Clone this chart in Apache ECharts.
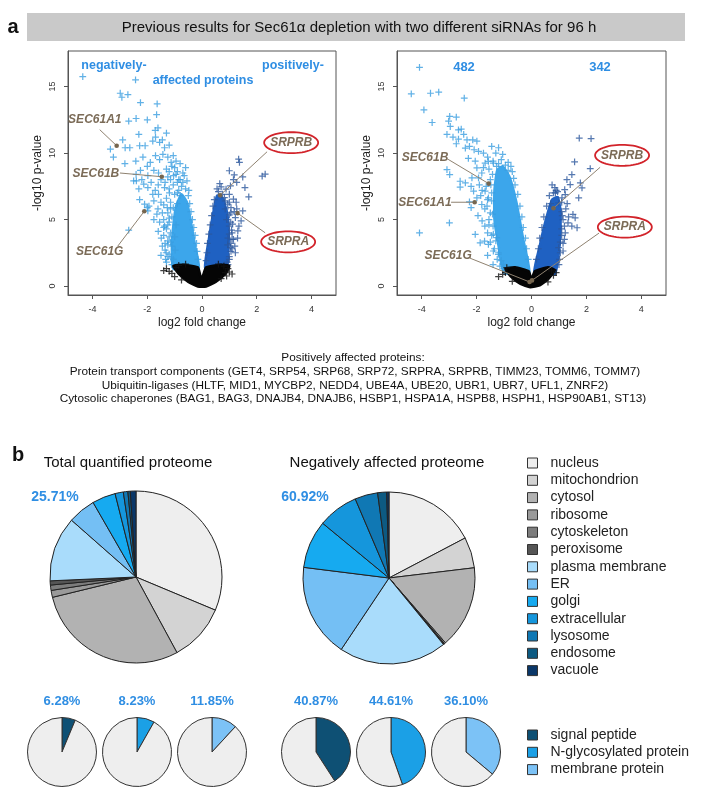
<!DOCTYPE html>
<html><head><meta charset="utf-8">
<script src="https://cdn.jsdelivr.net/npm/echarts@6/dist/echarts.min.js"></script>
<style>html,body{margin:0;padding:0;background:#fff}#c{width:706px;height:801px}</style>
</head><body><div id="c"></div>
<script>
// ================= DATA =================
const titleText = 'Previous results for Sec61\u03b1 depletion with two different siRNAs for 96 h';
const xTicks = [-4, -2, 0, 2, 4];
const yTicks = [0, 5, 10, 15];
const counts2 = [482, 342];

// Volcano 1 (left) – scattered points
const v1Neg = [[-4.36,15.75],[-2.43,15.5],[-2.99,14.5],[-2.71,14.4],[-2.93,14.2],[-2.25,13.8],[-1.64,13.7],[-1.66,12.9],
[-2.68,12.4],[-2.41,12.6],[-2.0,12.5],[-1.61,11.9],[-1.71,11.7],[-3.35,10.3],[-3.24,9.7],[-2.81,10.4],
[-2.64,10.4],[-2.31,11.4],[-2.28,10.55],[-2.9,11.0],[-2.08,10.55],[-1.8,10.9],[-1.7,11.2],[-1.55,10.8],
[-1.37,10.4],[-1.43,9.9],[-1.25,9.7],[-1.13,9.3],[-1.0,8.9],[-2.42,9.4],[-2.16,9.7],[-1.89,9.3],
[-2.41,8.4],[-2.25,8.7],[-1.98,8.3],[-1.76,8.7],[-1.59,8.5],[-1.25,8.2],[-1.04,8.3],[-2.31,7.3],
[-2.13,7.66],[-1.98,7.4],[-1.86,7.8],[-1.71,7.2],[-1.59,6.9],[-1.37,7.4],[-1.19,7.0],[-2.28,6.5],
[-2.1,6.15],[-1.94,6.0],[-1.76,6.4],[-1.61,5.8],[-1.98,5.65],[-1.45,5.5],[-1.27,5.9],[-1.76,5.0],
[-1.37,4.5],[-2.68,4.2],[-1.33,2.0],[-1.31,2.5],[-1.25,3.1],[-1.49,3.6],[-1.13,2.1],
[-1.3,8.8],[-1.2,8.6],[-1.1,9.0],[-0.95,8.4],[-1.15,8.0],[-1.35,7.8],[-1.05,7.6],[-0.9,7.8],[-1.2,7.3],
[-0.85,7.2],[-1.0,6.9],[-1.3,6.6],[-1.15,6.3],[-0.9,6.2],[-1.4,6.1],[-1.05,5.9],[-1.25,5.5],[-1.1,5.2],
[-1.4,5.0],[-1.2,4.8],[-1.3,4.3],[-1.15,4.0],[-1.4,3.8],[-1.25,3.4],[-1.1,3.0],[-1.35,2.7],[-1.2,2.4],
[-1.05,2.0],[-1.3,1.8],[-0.95,4.6],[-1.0,3.7],[-0.98,2.7],[-0.85,8.0],[-0.75,7.5],[-0.8,6.8],
[-1.2,10.6],[-1.05,9.8],[-0.95,9.4],[-1.3,11.5],[-1.45,11.0],[-0.9,8.6],[-0.8,8.0],
[-1.55,9.5],[-1.6,7.6],[-1.5,6.3],[-1.55,4.8],[-1.6,4.1],[-1.45,3.0],[-1.5,2.3],[-1.65,5.4],[-1.5,8.0],
[-1.8,6.9],[-2.0,9.0],[-1.7,9.8],[-2.5,7.9],[-2.2,8.0],[-2.82,9.2],[-2.4,7.9],[-2.0,5.9],
[-0.6,7.3],[-0.5,6.8],[-0.45,6.2],[-0.4,5.6],[-0.35,5.0],[-0.3,4.4],[-0.25,3.8],[-0.2,3.2],[-0.18,2.6],
[-0.15,2.0],[-0.7,7.8],[-0.65,8.3],[-0.9,7.0],[-1.15,5.8],[-1.2,5.1],[-1.25,4.6],[-1.2,3.7],[-1.15,3.3],
[-1.25,2.2],[-1.1,1.6],[-0.6,8.9],[-0.8,9.2],[-0.7,8.5],[-0.55,7.9],[-0.48,7.2],[-1.4,4.4],[-1.35,3.2]];
const v1Pos = [[1.34,9.55],[1.37,9.3],[1.0,8.67],[1.18,8.36],[1.49,8.2],[1.15,8.0],[2.2,8.26],[2.31,8.41],
[0.7,7.46],[0.88,7.28],[1.04,7.53],[1.27,7.8],[1.57,7.4],[1.71,6.7],[0.82,6.65],[1.0,6.9],[1.15,6.53],
[1.25,6.3],[0.94,6.15],[1.06,5.9],[0.85,5.8],[1.18,5.6],[1.27,5.8],[1.0,5.35],[1.49,5.65],[1.43,4.9],
[1.22,5.15],[1.12,4.65],[1.31,4.15],[1.0,3.9],[1.15,3.5],[0.94,3.1],[1.22,2.5],[1.06,2.6],
[0.9,5.0],[1.0,4.5],[0.95,3.6],[1.05,3.2],[1.1,4.0],[0.85,6.4],[0.75,6.9],[0.6,7.1],[1.1,2.8],
[1.0,2.2],[0.92,1.8],[1.2,3.0],[1.3,3.6],[1.35,4.5],
[0.55,7.3],[0.45,6.5],[0.4,6.0],[0.35,5.3],[0.3,4.6],[0.25,3.9],[0.2,3.2],[0.18,2.5],[0.15,1.9],
[1.0,6.3],[1.05,5.5],[1.05,4.8],[1.08,4.2],[1.1,3.5],[1.05,2.9],[1.0,2.0],[0.95,1.6],[0.65,7.7]];
const v1Black = [[-1.3,1.3],[-1.1,0.95],[-1.2,1.1],[0.85,1.0],[1.0,1.05],[0.95,1.3],[-0.95,1.4],[1.1,0.9],
[-0.85,1.55],[0.8,1.5],[-1.4,1.15],[-1.0,0.7],[-0.75,0.45],[0.7,0.55],[0.9,0.75],[-0.6,1.65],[0.6,1.65]];
// dense clouds (outline of the saturated regions)
const v1NegCore = [[-0.12,1.3],[-0.25,3.0],[-0.42,5.0],[-0.55,6.3],[-0.75,6.9],[-0.95,6.0],[-1.05,4.5],[-1.1,3.0],[-1.05,1.3]];
const v1PosCore = [[0.12,1.3],[0.25,3.5],[0.42,5.6],[0.55,6.8],[0.75,6.6],[0.92,5.5],[0.98,3.8],[0.95,2.2],[0.9,1.3]];
const v1BlackCore = [[-1.05,1.5],[-0.85,0.9],[-0.5,0.3],[-0.15,-0.05],[0.15,-0.05],[0.5,0.3],[0.85,0.9],[1.0,1.5],[0.7,1.6],[0.15,1.4],[0.02,0.7],[-0.05,0.7],[-0.15,1.4],[-0.7,1.6]];
const v1HitNames = ['SEC61A1','SEC61B','SEC61G','SRPRB','SRPRA'];
const v1Hits = [[-3.12,10.55],[-1.47,8.22],[-2.11,5.62],[0.66,6.82],[1.3,5.48]];

// Volcano 2 (right)
const v2Neg = [[-4.08,16.45],[-4.38,14.45],[-3.68,14.5],[-3.38,14.58],[-2.45,14.13],[-3.92,13.25],[-3.62,12.3],
[-2.98,12.76],[-2.74,12.7],[-3.02,12.4],[-2.96,12.0],[-2.66,11.75],[-2.56,11.8],[-3.08,11.4],[-2.86,11.2],
[-2.66,11.05],[-2.47,11.4],[-2.74,10.7],[-2.35,11.0],[-2.14,11.0],[-1.99,10.9],[-2.26,10.5],[-2.41,10.38],
[-2.09,10.25],[-1.93,10.13],[-1.75,10.0],[-3.08,8.75],[-2.98,8.38],[-2.6,7.88],[-2.41,7.75],[-2.6,7.43],
[-2.17,8.13],[-1.99,8.88],[-1.69,9.25],[-1.57,9.38],[-1.39,9.25],[-1.27,9.0],[-1.81,8.5],[-1.93,8.13],
[-2.11,7.13],[-2.26,6.33],[-1.99,6.63],[-1.81,6.13],[-1.69,7.13],[-1.57,6.63],[-2.99,4.75],[-4.08,4.0],
[-2.05,3.88],[-1.87,3.25],[-1.71,3.38],[-1.57,3.13],[-1.39,3.9],[-1.27,3.63],[-1.39,2.63],[-1.21,2.38],[-1.03,1.63],
[-1.5,8.0],[-1.45,7.0],[-1.6,6.5],[-1.5,5.5],[-1.55,4.6],[-1.45,3.8],[-1.35,2.8],[-1.25,2.0],[-1.15,1.5],
[-1.65,7.5],[-1.7,5.8],[-1.4,9.4],[-1.1,9.5],[-0.95,9.1],[-0.85,8.7],[-1.3,10.0],[-1.6,9.7],[-1.75,8.9],
[-1.8,7.2],[-1.85,6.8],[-1.7,4.5],[-1.6,4.0],[-1.5,3.3],[-1.6,2.3],[-1.4,1.6],
[-2.3,9.6],[-2.05,9.4],[-1.9,7.6],[-2.2,7.5],[-1.95,5.3],[-1.8,4.9],[-2.2,5.9],[-1.45,10.5],[-1.2,10.4],[-1.05,9.9],
[-0.85,9.3],[-0.7,8.6],[-0.6,7.6],[-0.5,6.9],[-0.42,6.0],[-0.35,5.2],[-0.3,4.4],[-0.22,3.6],[-0.18,2.8],
[-0.12,2.0],[-1.2,9.2],[-1.42,8.4],[-1.48,7.6],[-1.45,6.4],[-1.42,5.4],[-1.4,4.5],[-1.3,3.4],[-1.2,2.5],
[-1.1,1.9],[-1.0,1.3],[-0.75,9.0],[-0.65,8.1],[-1.55,8.8],[-1.62,6.0],[-1.55,5.0]];
const v2Pos = [[1.74,11.13],[2.17,11.08],[1.57,9.33],[2.14,8.83],[1.29,8.0],[1.47,8.38],[1.41,7.63],[1.78,7.75],
[1.84,7.38],[1.21,7.25],[0.87,7.0],[1.11,6.63],[1.23,6.88],[0.99,6.25],[1.72,6.63],[1.59,5.13],[1.51,5.38],
[1.33,4.75],[1.47,4.5],[1.66,4.38],[1.23,4.0],[1.15,2.63],[0.99,2.88],
[1.1,5.6],[1.15,5.0],[1.2,4.5],[1.1,3.8],[1.15,3.2],[1.05,2.5],[0.95,7.1],[0.85,7.4],[1.0,1.6],[1.25,5.8],
[1.3,6.2],[1.35,5.2],[1.2,3.5],
[0.65,6.8],[0.55,6.0],[0.45,5.2],[0.38,4.4],[0.3,3.6],[0.25,2.8],[0.18,2.0],[1.1,6.3],[1.12,5.3],
[1.1,4.3],[1.05,3.3],[1.02,2.0],[0.9,7.2],[0.8,7.0],[0.75,7.6],[0.7,6.2]];
const v2Black = [[-1.05,0.88],[-0.9,1.38],[0.73,1.13],[-1.2,0.7],[0.9,1.0],[-0.95,1.0],[-0.7,0.35],[0.6,0.3],[0.8,0.8]];
const v2NegCore = [[-0.08,0.9],[-0.3,3.5],[-0.55,6.3],[-0.8,8.2],[-1.05,9.0],[-1.25,8.7],[-1.35,7.2],[-1.35,5.0],[-1.2,3.0],[-1.0,1.0]];
const v2PosCore = [[0.1,0.9],[0.3,3.0],[0.5,4.8],[0.75,6.5],[0.95,6.7],[1.05,5.8],[1.05,4.0],[0.98,2.2],[0.85,0.9]];
const v2BlackCore = [[-0.95,1.3],[-0.75,0.7],[-0.4,0.15],[-0.05,-0.1],[0.3,0.05],[0.6,0.5],[0.85,1.2],[0.6,1.4],[0.12,1.1],[0.0,0.5],[-0.1,1.1],[-0.6,1.4]];
const v2HitNames = ['SEC61B','SEC61A1','SEC61G','SRPRB','SRPRA'];
const v2Hits = [[-1.56,7.7],[-2.07,6.3],[-0.07,0.3],[0.8,5.85],[0.02,0.42]];

// Positively affected proteins
const posHeader = 'Positively affected proteins:';
const transport = ['GET4','SRP54','SRP68','SRP72','SRPRA','SRPRB','TIMM23','TOMM6','TOMM7'];
const ubiquitin = ['HLTF','MID1','MYCBP2','NEDD4','UBE4A','UBE20','UBR1','UBR7','UFL1','ZNRF2'];
const chaperones = ['BAG1','BAG3','DNAJB4','DNAJB6','HSBP1','HSPA1A','HSPB8','HSPH1','HSP90AB1','ST13'];

// Panel b
const pieTitles = ['Total quantified proteome','Negatively affected proteome'];
const locations = ['nucleus','mitochondrion','cytosol','ribosome','cytoskeleton','peroxisome','plasma membrane','ER','golgi','extracellular','lysosome','endosome','vacuole'];
const totalShares = [31.3,10.8,29.1,1.3,1.0,0.79,12.2,5.2,4.4,1.55,0.85,0.45,1.06];
const negShares   = [17.3,5.8,15.5,0.25,0.15,0.08,20.3,17.6,9.0,7.6,4.3,1.7,0.42];
const secretoryPct = [25.71, 60.92];
const featureNames = ['signal peptide','N-glycosylated protein','membrane protein'];
const totalFeaturePct = [6.28, 8.23, 11.85];
const negFeaturePct = [40.87, 44.61, 36.10];

// ================= STYLE / LAYOUT =================
const FONT = "'Liberation Sans', Arial, Helvetica, sans-serif";
const BLUE_TXT = '#2f8ee3';
const ANNO = '#7b6b57';
const locColors = ['#eeeeee','#d3d3d3','#b2b2b2','#9a9a9a','#7d7d7d','#555555','#a9dcfb','#74bff4','#16aaf0','#1596dc','#1078b4','#0d5a82','#0a3768'];
const featColors = ['#0e5074','#1ba0e6','#7cc2f6'];
const PLUS = 'path://M4.1,0H5.9V4.1H10V5.9H5.9V10H4.1V5.9H0V4.1H4.1Z';
const grids = [
  {left: 68, top: 51, width: 268, height: 244},
  {left: 397, top: 51, width: 269, height: 244}
];
const annoLayout = [
  [ {text:[-3.92,12.5], from:[-3.74,11.76]}, {text:[-3.88,8.44], from:[-3.0,8.5]}, {text:[-3.74,2.56], from:[-3.08,3.0]},
    {ring:[3.26,10.78], from:[2.38,10.1]}, {ring:[3.15,3.32], from:[2.31,4.0]} ],
  [ {text:[-3.88,9.68], from:[-3.04,9.53]}, {text:[-3.88,6.23], from:[-2.93,6.3]}, {text:[-3.04,2.25], from:[-2.25,2.1]},
    {ring:[3.3,9.83], from:[2.5,8.93]}, {ring:[3.4,4.43], from:[2.46,3.98]} ]
];

function ellipsePts(cx, cy, rx, ry) {
  const pts = [];
  for (let k = 0; k < 60; k++) { const t = k / 60 * 2 * Math.PI; pts.push([cx + rx * Math.cos(t), cy + ry * Math.sin(t)]); }
  return pts;
}

function polySeries(gi, verts, color, z) {
  return {
    type: 'custom', xAxisIndex: gi, yAxisIndex: gi, z: z, silent: true, clip: true,
    data: [[0, 0]],
    renderItem: (params, api) => ({
      type: 'polygon',
      shape: { points: verts.map(v => api.coord(v)), smooth: 0.15 },
      style: { fill: color, stroke: color, lineWidth: 2.5, lineJoin: 'round' }
    })
  };
}
function scatterSeries(gi, data, color, z) {
  return { type: 'scatter', xAxisIndex: gi, yAxisIndex: gi, data: data, symbol: PLUS, symbolSize: 6.8,
    itemStyle: { color: color }, silent: true, z: z };
}
function annoSeries(gi, hits, names) {
  return {
    type: 'custom', xAxisIndex: gi, yAxisIndex: gi, silent: true, z: 20, clip: false,
    data: hits,
    renderItem: (params, api) => {
      const i = params.dataIndex;
      const L = annoLayout[gi][i];
      const p = api.coord([api.value(0), api.value(1)]);
      const s = api.coord(L.from);
      const ch = [
        { type: 'line', shape: { x1: s[0], y1: s[1], x2: p[0], y2: p[1] }, style: { stroke: '#8f8270', lineWidth: 1 } },
        { type: 'circle', shape: { cx: p[0], cy: p[1], r: 2.3 }, style: { fill: '#76664f' } }
      ];
      let a;
      if (L.ring) {
        a = api.coord(L.ring);
        ch.push({ type: 'polygon', shape: { points: ellipsePts(a[0], a[1], 27, 10.5) },
          style: { fill: '#ffffff', stroke: '#d2232a', lineWidth: 1.8 } });
      } else {
        a = api.coord(L.text);
      }
      ch.push({ type: 'text', x: a[0], y: a[1], style: { text: names[i], font: 'italic bold 12px ' + FONT,
        fill: ANNO, align: 'center', verticalAlign: 'middle' } });
      return { type: 'group', children: ch };
    }
  };
}

const xAxes = grids.map((g, i) => ({
  gridIndex: i, type: 'value', min: -4.9, max: 4.9,
  name: 'log2 fold change', nameLocation: 'middle', nameGap: 22,
  nameTextStyle: { fontSize: 12, color: '#222', fontFamily: FONT },
  axisLine: { show: true, onZero: false, lineStyle: { color: '#555' } },
  axisTick: { show: true, length: 4, customValues: xTicks, lineStyle: { color: '#555' } },
  axisLabel: { customValues: xTicks, fontSize: 9, color: '#333', margin: 10, fontFamily: FONT },
  splitLine: { show: false }
}));
const yAxes = grids.map((g, i) => ({
  gridIndex: i, type: 'value', min: -0.68, max: 17.68,
  name: '-log10 p-value', nameLocation: 'middle', nameGap: 24,
  nameTextStyle: { fontSize: 12, color: '#222', fontFamily: FONT },
  axisLine: { show: true, onZero: false, lineStyle: { color: '#555' } },
  axisTick: { show: true, length: 4, customValues: yTicks, lineStyle: { color: '#555' } },
  axisLabel: { customValues: yTicks, fontSize: 9, color: '#333', margin: 11, rotate: 90, fontFamily: FONT },
  splitLine: { show: false }
}));

const series = [
  polySeries(0, v1NegCore, '#3ca6eb', 2), polySeries(0, v1PosCore, '#1f61c2', 2),
  scatterSeries(0, v1Neg, '#399ee0', 3), scatterSeries(0, v1Pos, '#2a569c', 3),
  polySeries(0, v1BlackCore, '#050505', 4), scatterSeries(0, v1Black, '#111', 5),
  annoSeries(0, v1Hits, v1HitNames),
  polySeries(1, v2NegCore, '#3ca6eb', 2), polySeries(1, v2PosCore, '#1f61c2', 2),
  scatterSeries(1, v2Neg, '#399ee0', 3), scatterSeries(1, v2Pos, '#2a569c', 3),
  polySeries(1, v2BlackCore, '#050505', 4), scatterSeries(1, v2Black, '#111', 5),
  annoSeries(1, v2Hits, v2HitNames)
];

// big pies
const bigCenters = [[136, 577], [389, 578]];
[totalShares, negShares].forEach((arr, k) => {
  series.push({
    type: 'pie', center: bigCenters[k], radius: 86, startAngle: 90, clockwise: true, silent: true,
    label: { show: false }, labelLine: { show: false }, emphasis: { disabled: true },
    itemStyle: { borderColor: '#222', borderWidth: 1 },
    data: arr.map((v, j) => ({ name: locations[j], value: v, itemStyle: { color: locColors[j] } }))
  });
});
// small pies
const smallCentersX = [62, 137, 212, 316, 391, 466];
const smallPct = totalFeaturePct.concat(negFeaturePct);
smallPct.forEach((v, k) => {
  const f = k % 3;
  series.push({
    type: 'pie', center: [smallCentersX[k], 752], radius: 34.5, startAngle: 90, clockwise: true, silent: true,
    label: { show: false }, labelLine: { show: false }, emphasis: { disabled: true },
    itemStyle: { borderColor: '#333', borderWidth: 1 },
    data: [ { name: featureNames[f], value: v, itemStyle: { color: featColors[f] } },
            { name: 'other', value: 100 - v, itemStyle: { color: '#eeeeee' } } ]
  });
});

// texts
const T = (x, y, text, font, fill, align) => ({ type: 'text', x: x, y: y, silent: true,
  style: { text: text, font: font, fill: fill || '#111', align: align || 'center', verticalAlign: 'middle' } });
const MIDFONT = '11.8px ' + FONT;
const graphic = [
  { type: 'rect', shape: { x: 27, y: 13, width: 658, height: 28 }, style: { fill: '#c9c9c9' }, silent: true },
  T(359, 27.5, titleText, '15px ' + FONT, '#111'),
  T(13, 27, 'a', 'bold 20px ' + FONT, '#111'),
  T(114, 66, 'negatively-', 'bold 12.5px ' + FONT, BLUE_TXT),
  T(293, 66, 'positively-', 'bold 12.5px ' + FONT, BLUE_TXT),
  T(203, 81, 'affected proteins', 'bold 12.5px ' + FONT, BLUE_TXT),
  T(464, 67, String(counts2[0]), 'bold 13px ' + FONT, BLUE_TXT),
  T(600, 67, String(counts2[1]), 'bold 13px ' + FONT, BLUE_TXT),
  T(353, 358, posHeader, MIDFONT, '#111'),
  T(355, 372, 'Protein transport components (' + transport.join(', ') + ')', MIDFONT, '#111'),
  T(355, 386, 'Ubiquitin-ligases (' + ubiquitin.join(', ') + ')', MIDFONT, '#111'),
  T(353, 399, 'Cytosolic chaperones (' + chaperones.join(', ') + ')', MIDFONT, '#111'),
  T(18, 455, 'b', 'bold 20px ' + FONT, '#111'),
  T(128, 463, pieTitles[0], '15px ' + FONT, '#111'),
  T(387, 463, pieTitles[1], '15px ' + FONT, '#111'),
  T(55, 497, secretoryPct[0].toFixed(2) + '%', 'bold 14px ' + FONT, BLUE_TXT),
  T(305, 497, secretoryPct[1].toFixed(2) + '%', 'bold 14px ' + FONT, BLUE_TXT)
];
smallPct.forEach((v, k) => graphic.push(T(smallCentersX[k], 701, v.toFixed(2) + '%', 'bold 13px ' + FONT, BLUE_TXT)));

const legendBase = {
  orient: 'vertical', left: 527, padding: 0, itemWidth: 10, itemHeight: 10, itemGap: 3.3, icon: 'rect',
  selectedMode: false, itemStyle: { borderColor: '#333', borderWidth: 1 },
  textStyle: { fontSize: 14, color: '#222', fontFamily: FONT, lineHeight: 14, padding: [0, 0, 0, 8] }
};

const chart = echarts.init(document.getElementById('c'), null, { renderer: 'canvas' });
chart.setOption({
  animation: false,
  backgroundColor: '#ffffff',
  grid: grids.map(g => Object.assign({ show: true, borderColor: '#555', borderWidth: 1, backgroundColor: 'transparent' }, g)),
  xAxis: xAxes,
  yAxis: yAxes,
  legend: [
    Object.assign({}, legendBase, { top: 456, data: locations }),
    Object.assign({}, legendBase, { top: 728, data: featureNames })
  ],
  graphic: graphic,
  series: series
});
</script>
</body></html>
